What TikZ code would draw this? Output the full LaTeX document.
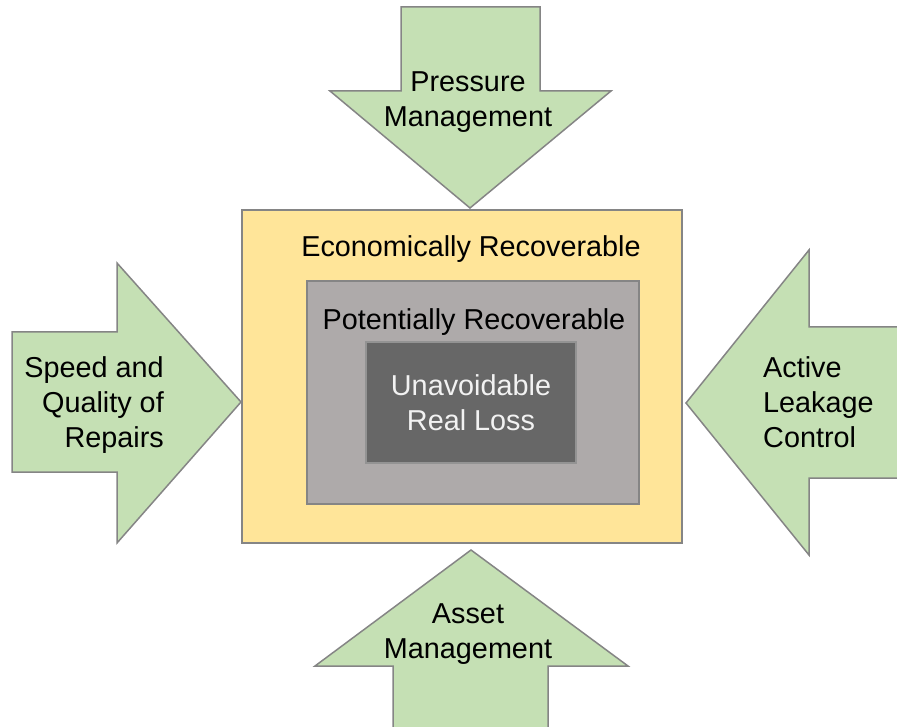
\documentclass[tikz,border=0pt]{standalone}
\usepackage{fontspec}
\setmainfont{Liberation Sans}
\definecolor{arrowgreen}{HTML}{C5E0B4}
\definecolor{econyellow}{HTML}{FFE599}
\definecolor{potgray}{HTML}{AEAAAA}
\definecolor{unavgray}{HTML}{676767}
\definecolor{edgegray}{HTML}{858585}
\begin{document}
\begin{tikzpicture}[x=1pt,y=-1pt,
  arrowshape/.style={fill=arrowgreen,draw=edgegray,line width=1.5pt,line join=miter},
  boxshape/.style={draw=edgegray,line width=1.5pt},
  lbl/.style={font=\fontsize{28.8}{35}\selectfont,inner sep=0pt,text=black}]
\clip (0,0) rectangle (897,727);
\useasboundingbox (0,0) rectangle (897,727);
% top arrow
\draw[arrowshape] (401,7) -- (540,7) -- (540,91) -- (611,91) -- (470,208) -- (330,91) -- (401,91) -- cycle;
% left arrow
\draw[arrowshape] (12,332) -- (117,332) -- (117,263) -- (241,402) -- (117,543) -- (117,472) -- (12,472) -- cycle;
% right arrow
\draw[arrowshape] (905,327) -- (809,327) -- (809,250) -- (686,403) -- (809,555) -- (809,478) -- (905,478);
% bottom arrow
\draw[arrowshape] (393,735) -- (393,666) -- (315,666) -- (471,550) -- (628,666) -- (548,666) -- (548,735);
% boxes
\draw[boxshape,fill=econyellow] (242,210) rectangle (682,543);
\draw[boxshape,fill=potgray] (307,281) rectangle (639,504);
\draw[boxshape,fill=unavgray,draw=gray!85] (366,342) rectangle (576,463);
% labels
\node[lbl,anchor=base] (econ) at (471,257) {Economically Recoverable};
\node[lbl,anchor=base] (pot) at (474,330) {Potentially Recoverable};
\node[lbl,anchor=base,align=center,text=white!95!black] (unav) at (471,430) {Unavoidable\\Real Loss};
\node[lbl,anchor=base,align=center] (press) at (468,127) {Pressure\\Management};
\node[lbl,anchor=base,align=center] (asset) at (468,658) {Asset\\Management};
\node[lbl,anchor=base east,align=right] (speed) at (164,447) {Speed and\\Quality of\\Repairs};
\node[lbl,anchor=base west,align=left] (alc) at (763,447) {Active\\Leakage\\Control};
\end{tikzpicture}
\end{document}
